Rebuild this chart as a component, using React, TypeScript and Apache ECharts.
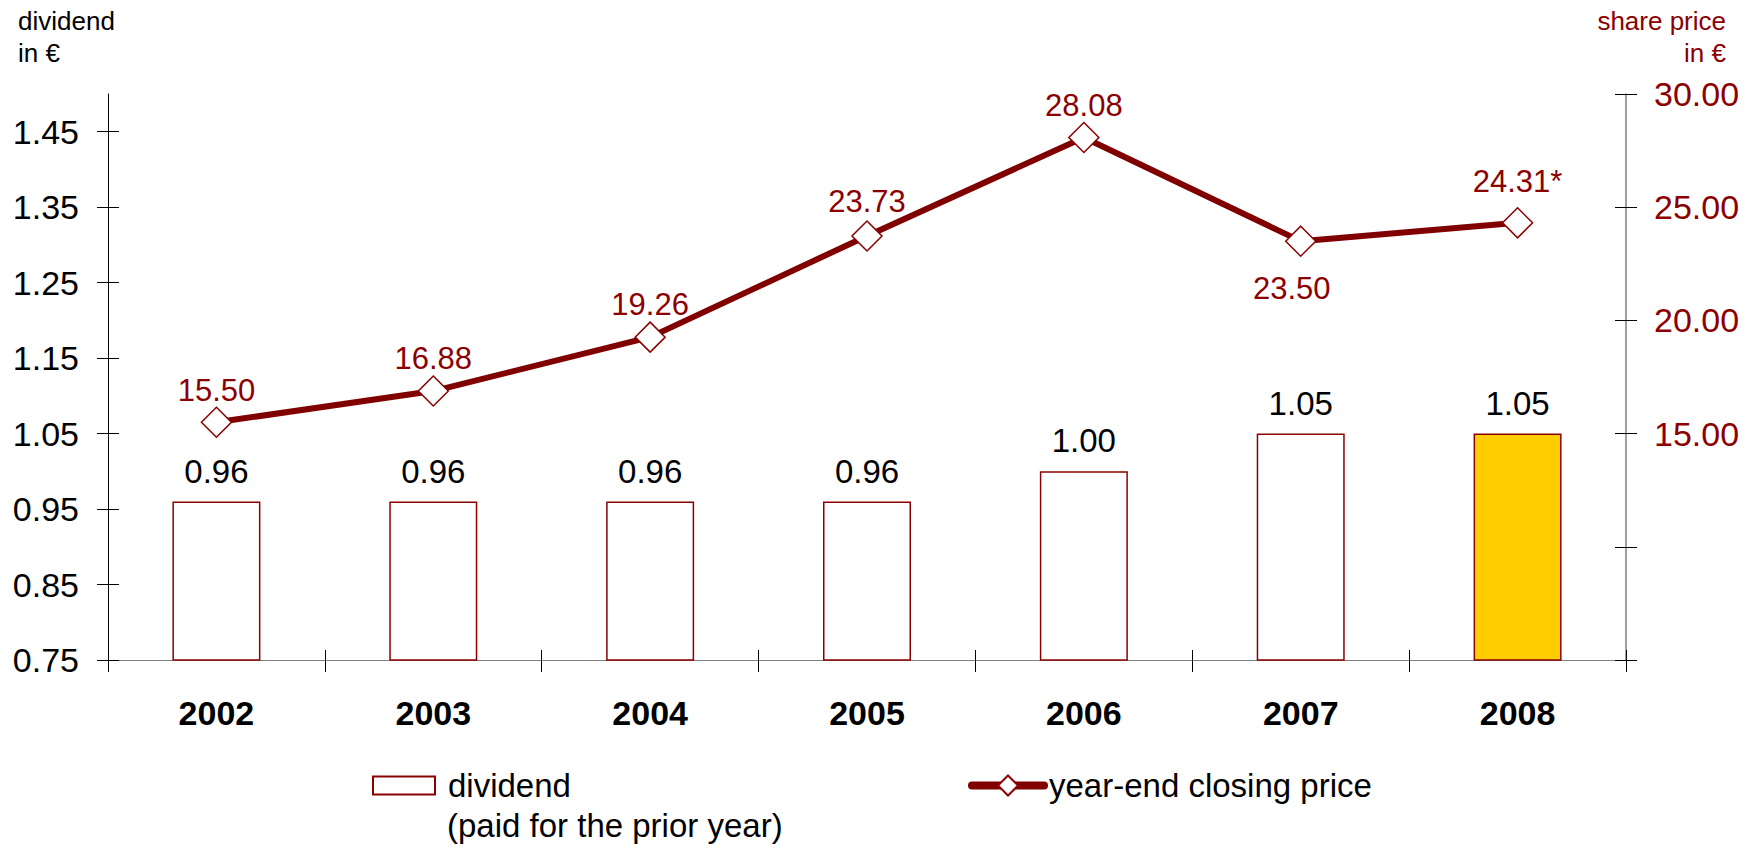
import React, { useEffect, useRef } from "react";
import * as echarts from "echarts";

const categories = ["2002", "2003", "2004", "2005", "2006", "2007", "2008"];
const dividends = [0.96, 0.96, 0.96, 0.96, 1.0, 1.05, 1.05];
const prices = [15.5, 16.88, 19.26, 23.73, 28.08, 23.5, 24.31];
const priceLabels = ["15.50", "16.88", "19.26", "23.73", "28.08", "23.50", "24.31*"];
const leftTicks = [0.75, 0.85, 0.95, 1.05, 1.15, 1.25, 1.35, 1.45];
const rightLabelled = [15, 20, 25, 30];

const FONT = "Liberation Sans, Arial, Helvetica, sans-serif";
const DARK_RED = "#8B0000";
const LINE_RED = "#800000";

export default function App() {
  const ref = useRef<HTMLDivElement>(null);

  useEffect(() => {
    if (!ref.current) return;
    const chart = echarts.init(ref.current, null, { renderer: "svg" });

    const barData = dividends.map((v, i) =>
      i === dividends.length - 1
        ? { value: v, itemStyle: { color: "#FFCC00" } }
        : { value: v }
    );

    const lineData = prices.map((v, i) => {
      const isBelow = i === 5;
      const isLast = i === 6;
      return {
        value: v,
        label: {
          formatter: priceLabels[i],
          position: isBelow ? "bottom" : "top",
          distance: isBelow ? 16 : isLast ? 10 : i === 3 ? 3 : 1,
          offset: isBelow ? [-9, 0] : [0, 0],
        },
      };
    });

    const option: any = {
      animation: false,
      textStyle: { fontFamily: FONT },
      grid: { left: 108, right: 134, top: 94, bottom: 188 },
      xAxis: [
        {
          type: "category",
          data: categories,
          position: "bottom",
          axisLine: { show: true, lineStyle: { color: "#808080", width: 1 } },
          axisTick: { show: true, length: 12, lineStyle: { color: "#000", width: 1 } },
          axisLabel: {
            fontSize: 34,
            fontWeight: "bold",
            color: "#000",
            margin: 36,
            fontFamily: FONT,
          },
        },
        {
          type: "category",
          data: categories,
          position: "bottom",
          axisLine: { show: false },
          axisTick: { show: true, inside: true, length: 10, lineStyle: { color: "#000", width: 1 } },
          axisLabel: { show: false },
        },
      ],
      yAxis: [
        {
          type: "value",
          position: "left",
          min: 0.75,
          max: 1.5,
          axisLine: { show: true, lineStyle: { color: "#000", width: 1 } },
          axisTick: {
            show: true,
            length: 11,
            customValues: leftTicks,
            lineStyle: { color: "#000", width: 1 },
          },
          axisLabel: {
            customValues: leftTicks,
            formatter: (v: number) => v.toFixed(2),
            fontSize: 34,
            color: "#000",
            margin: 29,
            fontFamily: FONT,
          },
          splitLine: { show: false },
        },
        {
          type: "value",
          position: "right",
          min: 5,
          max: 30,
          interval: 5,
          axisLine: { show: true, lineStyle: { color: "#808080", width: 1.5 } },
          axisTick: { show: true, length: 11, lineStyle: { color: "#000", width: 1 } },
          axisLabel: {
            formatter: (v: number) => (rightLabelled.indexOf(v) >= 0 ? v.toFixed(2) : ""),
            fontSize: 34,
            color: DARK_RED,
            margin: 28,
            fontFamily: FONT,
          },
          splitLine: { show: false },
        },
        {
          type: "value",
          position: "left",
          min: 0.75,
          max: 1.5,
          axisLine: { show: false },
          axisTick: {
            show: true,
            inside: true,
            length: 11,
            customValues: leftTicks,
            lineStyle: { color: "#000", width: 1 },
          },
          axisLabel: { show: false },
          splitLine: { show: false },
        },
        {
          type: "value",
          position: "right",
          min: 5,
          max: 30,
          interval: 5,
          axisLine: { show: false },
          axisTick: { show: true, inside: true, length: 11, lineStyle: { color: "#000", width: 1 } },
          axisLabel: { show: false },
          splitLine: { show: false },
        },
      ],
      legend: [
        {
          data: [{ name: "dividend", icon: "rect" }],
          left: 372,
          top: 769,
          padding: 0,
          itemWidth: 62,
          itemHeight: 18,
          selectedMode: false,
          textStyle: { fontSize: 33, color: "#000", fontFamily: FONT, padding: [0, 0, 0, 8] },
        },
        {
          data: [{ name: "year-end closing price" }],
          left: 968,
          top: 769,
          padding: 0,
          itemWidth: 72,
          itemHeight: 25,
          selectedMode: false,
          lineStyle: { color: LINE_RED, width: 8, cap: "round" },
          textStyle: { fontSize: 33, color: "#000", fontFamily: FONT },
        },
      ],
      graphic: [
        {
          type: "text",
          left: 18,
          top: 5,
          style: {
            text: "dividend\nin €",
            font: `26px ${FONT}`,
            fill: "#000",
            lineHeight: 32,
          },
        },
        {
          type: "text",
          right: 34,
          top: 5,
          style: {
            text: "share price",
            font: `26px ${FONT}`,
            fill: DARK_RED,
            lineHeight: 32,
          },
        },
        {
          type: "text",
          right: 34,
          top: 37,
          style: {
            text: "in €",
            font: `26px ${FONT}`,
            fill: DARK_RED,
            lineHeight: 32,
          },
        },
        {
          type: "text",
          left: 447,
          top: 809,
          style: {
            text: "(paid for the prior year)",
            font: `33px ${FONT}`,
            fill: "#000",
          },
        },
      ],
      series: [
        {
          name: "dividend",
          type: "bar",
          xAxisIndex: 0,
          yAxisIndex: 0,
          barWidth: 88,
          data: barData,
          itemStyle: { color: "#FFFFFF", borderColor: DARK_RED, borderWidth: 1.5 },
          label: {
            show: true,
            position: "top",
            distance: 14,
            fontSize: 33,
            color: "#000",
            fontFamily: FONT,
            formatter: (p: any) => Number(p.value).toFixed(2),
          },
        },
        {
          name: "year-end closing price",
          type: "line",
          xAxisIndex: 0,
          yAxisIndex: 1,
          data: lineData,
          symbol: "diamond",
          symbolSize: 30,
          lineStyle: { color: LINE_RED, width: 6 },
          itemStyle: { color: "#FFFFFF", borderColor: DARK_RED, borderWidth: 1.5 },
          label: {
            show: true,
            fontSize: 31,
            color: DARK_RED,
            fontFamily: FONT,
          },
          z: 5,
        },
      ],
    };

    chart.setOption(option);
    return () => {
      chart.dispose();
    };
  }, []);

  return (
    <div
      ref={ref}
      style={{ position: "fixed", left: 0, top: 0, width: 1760, height: 848, background: "#fff" }}
    />
  );
}
